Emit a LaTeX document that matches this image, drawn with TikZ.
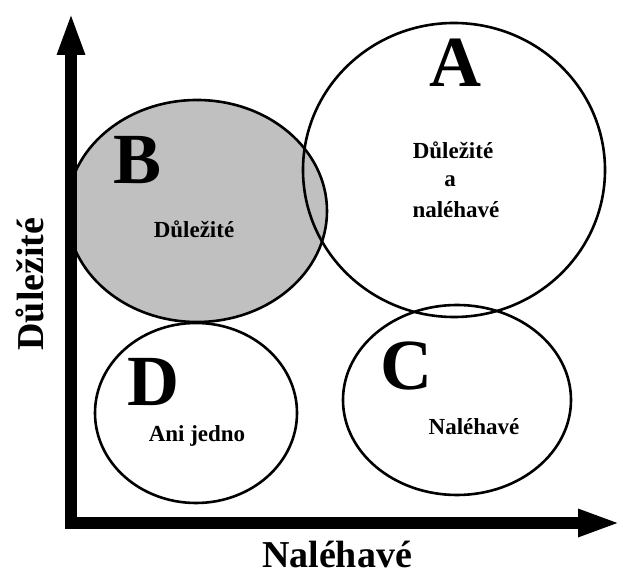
\documentclass[tikz,border=0pt]{standalone}
\usepackage{fontspec}
\setmainfont{Liberation Serif}
\usetikzlibrary{arrows.meta,shapes.geometric}
\definecolor{shadegray}{HTML}{C0C0C0}
\begin{document}
\begin{tikzpicture}[x=1pt,y=1pt,
  quadrant/.style={ellipse,draw=black,line width=2.6pt,inner sep=0pt},
  letter/.style={font=\fontsize{72}{72}\selectfont\bfseries},
  caption/.style={font=\fontsize{23}{23}\selectfont\bfseries,anchor=base},
  axislabel/.style={font=\fontsize{38}{38}\selectfont\bfseries,anchor=base,inner sep=0pt},
  axisline/.style={line width=12.5pt,{Triangle[length=43pt,width=25pt]}-{Triangle[length=43pt,width=25pt]}}]
\useasboundingbox (0.000000,0.000000) rectangle (621.000000,578.000000);
% Drawing quadrants
% B: important only
\node[quadrant,fill=shadegray,minimum width=260pt,minimum height=222pt] (B) at (197.000000,367.000000) {};
% A: important and urgent
\node[quadrant,minimum width=302pt,minimum height=294pt] (A) at (454.000000,408.000000) {};
% C: urgent only
\node[quadrant,minimum width=228pt,minimum height=190pt] (C) at (457.000000,178.000000) {};
% D: neither
\node[quadrant,minimum width=202pt,minimum height=180pt] (D) at (196.000000,165.000000) {};
% Done with quadrants; drawing axes
\coordinate (ytip) at (71.000000,566.000000);
\coordinate (origin) at (71.000000,55.000000);
\coordinate (xtip) at (621.000000,55.000000);
\draw[axisline] (ytip) -- (origin) -- (xtip);
% Done with axes; drawing labels
\node[letter] (Aletter) at (455.000000,515.000000) {A};
\node[letter] (Bletter) at (138.000000,418.000000) {B};
\node[letter] (Cletter) at (406.000000,212.000000) {C};
\node[letter] (Dletter) at (153.000000,196.000000) {D};
\node[caption] (Atext1) at (453.000000,419.000000) {Důležité};
\node[caption] (Atext2) at (450.000000,391.000000) {a};
\node[caption] (Atext3) at (456.000000,360.000000) {naléhavé};
\node[caption] (Btext) at (194.000000,340.000000) {Důležité};
\node[caption] (Ctext) at (474.000000,143.000000) {Naléhavé};
\node[caption] (Dtext) at (197.000000,136.000000) {Ani jedno};
% Axis captions
\node[axislabel] (xlabel) at (337.000000,10.000000) {Naléhavé};
\node[axislabel,rotate=90] (ylabel) at (43.000000,294.000000) {Důležité};
% Done with labels
\end{tikzpicture}
\end{document}
